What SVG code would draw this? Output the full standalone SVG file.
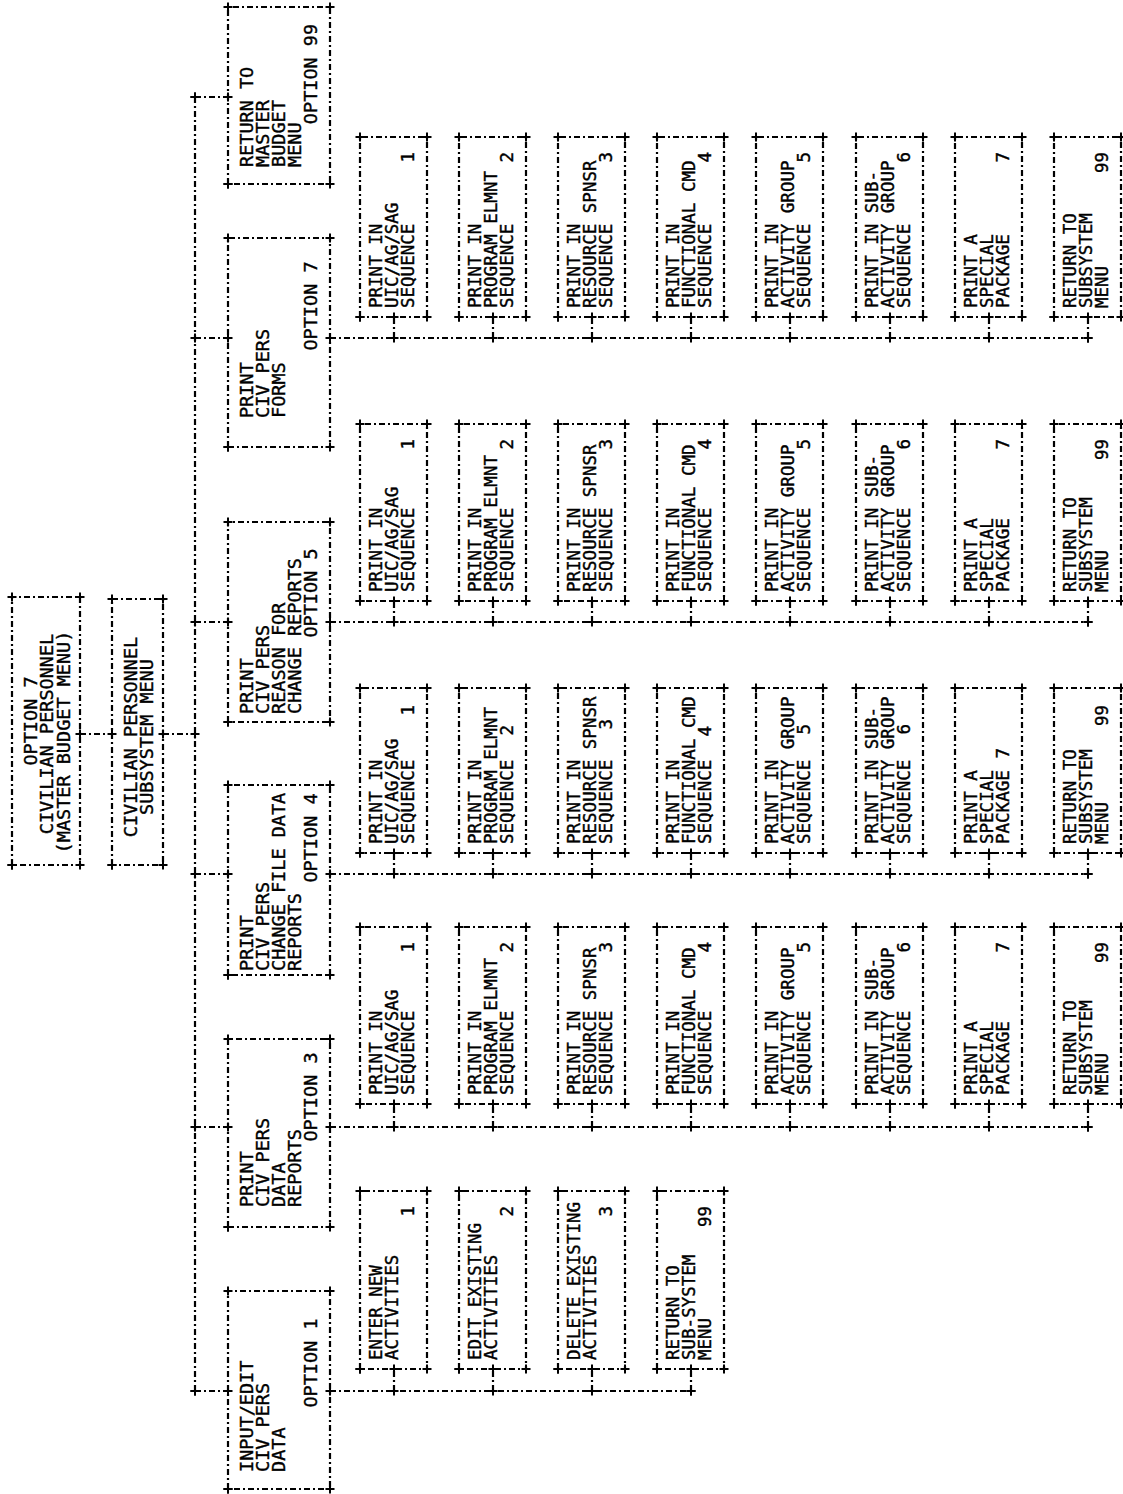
<svg xmlns="http://www.w3.org/2000/svg" width="1123" height="1494" viewBox="0 0 1123 1494">
<style>
.bx,.cn{fill:none;stroke:#000;stroke-width:2.2;stroke-dasharray:6 3 2 3;marker-start:url(#pl);marker-mid:url(#pl);marker-end:url(#pl)}
text{font-family:"DejaVu Sans Mono","Liberation Mono",monospace;font-size:17.5px;fill:#000;stroke:#000;stroke-width:0.4}
.tb{font-size:18.5px}
.e{text-anchor:end}
.m{text-anchor:middle}
</style>
<defs>
<marker id="pl" viewBox="-6 -6 12 12" refX="0" refY="0" markerWidth="12" markerHeight="12" markerUnits="userSpaceOnUse" orient="0">
<path d="M-4.5,0H4.5M0,-4.5V4.5" fill="none" stroke="#000" stroke-width="2"/>
</marker>
</defs>
<rect width="1123" height="1494" fill="#fff"/>

<g id="connectors">
<path class="cn" d="M80,734H112"/>
<path class="cn" d="M163,734H195"/>
<path class="cn" d="M195,97V1391"/>
<path class="cn" d="M195,97H228"/>
<path class="cn" d="M195,338H228"/>
<path class="cn" d="M195,622H228"/>
<path class="cn" d="M195,874H228"/>
<path class="cn" d="M195,1127H228"/>
<path class="cn" d="M195,1391H228"/>
<path class="cn" d="M330,338H1088"/>
<path class="cn" d="M330,622H1088"/>
<path class="cn" d="M330,874H1088"/>
<path class="cn" d="M330,1127H1088"/>
<path class="cn" d="M330,1391H691"/>
<path class="cn" d="M394,338V317"/><path class="cn" d="M493,338V317"/><path class="cn" d="M592,338V317"/><path class="cn" d="M691,338V317"/><path class="cn" d="M790,338V317"/><path class="cn" d="M890,338V317"/><path class="cn" d="M989,338V317"/><path class="cn" d="M1088,338V317"/>
<path class="cn" d="M394,622V601"/><path class="cn" d="M493,622V601"/><path class="cn" d="M592,622V601"/><path class="cn" d="M691,622V601"/><path class="cn" d="M790,622V601"/><path class="cn" d="M890,622V601"/><path class="cn" d="M989,622V601"/><path class="cn" d="M1088,622V601"/>
<path class="cn" d="M394,874V853"/><path class="cn" d="M493,874V853"/><path class="cn" d="M592,874V853"/><path class="cn" d="M691,874V853"/><path class="cn" d="M790,874V853"/><path class="cn" d="M890,874V853"/><path class="cn" d="M989,874V853"/><path class="cn" d="M1088,874V853"/>
<path class="cn" d="M394,1127V1104"/><path class="cn" d="M493,1127V1104"/><path class="cn" d="M592,1127V1104"/><path class="cn" d="M691,1127V1104"/><path class="cn" d="M790,1127V1104"/><path class="cn" d="M890,1127V1104"/><path class="cn" d="M989,1127V1104"/><path class="cn" d="M1088,1127V1104"/>
<path class="cn" d="M394,1391V1369"/><path class="cn" d="M493,1391V1369"/><path class="cn" d="M592,1391V1369"/><path class="cn" d="M691,1391V1369"/>
</g>

<g id="root" transform="translate(12,865) rotate(-90)"><path class="bx" d="M0,0H268V68H0Z"/><text class="tb m" x="144" y="25">OPTION 7</text><text class="tb m" x="131" y="41">CIVILIAN PERSONNEL</text><text class="tb m" x="123" y="58">(MASTER BUDGET MENU)</text></g>
<g id="subsystem" transform="translate(112,865) rotate(-90)"><path class="bx" d="M0,0H266V51H0Z"/><text class="tb m" x="128" y="25">CIVILIAN PERSONNEL</text><text class="tb m" x="128" y="41">SUBSYSTEM MENU</text></g>

<g id="opt99" transform="translate(228,184) rotate(-90)"><path class="bx" d="M0,0H177V102H0Z"/><text class="tb" x="17" y="25">RETURN TO</text><text class="tb" x="17" y="41">MASTER</text><text class="tb" x="17" y="57">BUDGET</text><text class="tb" x="17" y="73">MENU</text><text class="tb m" x="110" y="89">OPTION 99</text></g>
<g id="opt7" transform="translate(228,447) rotate(-90)"><path class="bx" d="M0,0H209V102H0Z"/><text class="tb" x="29" y="25">PRINT</text><text class="tb" x="29" y="41">CIV PERS</text><text class="tb" x="29" y="57">FORMS</text><text class="tb m" x="141" y="89">OPTION 7</text></g>
<g id="opt5" transform="translate(228,722) rotate(-90)"><path class="bx" d="M0,0H200V102H0Z"/><text class="tb" x="8" y="25">PRINT</text><text class="tb" x="8" y="41">CIV PERS</text><text class="tb" x="8" y="57">REASON FOR</text><text class="tb" x="8" y="73">CHANGE REPORTS</text><text class="tb m" x="129" y="89">OPTION 5</text></g>
<g id="opt4" transform="translate(228,975) rotate(-90)"><path class="bx" d="M0,0H190V102H0Z"/><text class="tb" x="4" y="25">PRINT</text><text class="tb" x="4" y="41">CIV PERS</text><text class="tb" x="4" y="57">CHANGE FILE DATA</text><text class="tb" x="4" y="73">REPORTS</text><text class="tb m" x="137" y="89">OPTION 4</text></g>
<g id="opt3" transform="translate(228,1227) rotate(-90)"><path class="bx" d="M0,0H188V102H0Z"/><text class="tb" x="20" y="25">PRINT</text><text class="tb" x="20" y="41">CIV PERS</text><text class="tb" x="20" y="57">DATA</text><text class="tb" x="20" y="73">REPORTS</text><text class="tb m" x="130" y="89">OPTION 3</text></g>
<g id="opt1" transform="translate(228,1489) rotate(-90)"><path class="bx" d="M0,0H198V102H0Z"/><text class="tb" x="17" y="25">INPUT/EDIT</text><text class="tb" x="17" y="41">CIV PERS</text><text class="tb" x="17" y="57">DATA</text><text class="tb m" x="126" y="89">OPTION 1</text></g>

<g id="r7c1" transform="translate(360,317) rotate(-90)"><path class="bx" d="M0,0H180V67H0Z"/><text x="9" y="22">PRINT IN</text><text x="9" y="38">UIC/AG/SAG</text><text x="9" y="54">SEQUENCE</text><text class="e" x="165" y="54">1</text></g>
<g id="r7c2" transform="translate(459,317) rotate(-90)"><path class="bx" d="M0,0H180V67H0Z"/><text x="9" y="22">PRINT IN</text><text x="9" y="38">PROGRAM ELMNT</text><text x="9" y="54">SEQUENCE</text><text class="e" x="165" y="54">2</text></g>
<g id="r7c3" transform="translate(558,317) rotate(-90)"><path class="bx" d="M0,0H180V67H0Z"/><text x="9" y="22">PRINT IN</text><text x="9" y="38">RESOURCE SPNSR</text><text x="9" y="54">SEQUENCE</text><text class="e" x="165" y="54">3</text></g>
<g id="r7c4" transform="translate(657,317) rotate(-90)"><path class="bx" d="M0,0H180V67H0Z"/><text x="9" y="22">PRINT IN</text><text x="9" y="38">FUNCTIONAL CMD</text><text x="9" y="54">SEQUENCE</text><text class="e" x="165" y="54">4</text></g>
<g id="r7c5" transform="translate(756,317) rotate(-90)"><path class="bx" d="M0,0H180V67H0Z"/><text x="9" y="22">PRINT IN</text><text x="9" y="38">ACTIVITY  GROUP</text><text x="9" y="54">SEQUENCE</text><text class="e" x="165" y="54">5</text></g>
<g id="r7c6" transform="translate(856,317) rotate(-90)"><path class="bx" d="M0,0H180V67H0Z"/><text x="9" y="22">PRINT IN SUB-</text><text x="9" y="38">ACTIVITY  GROUP</text><text x="9" y="54">SEQUENCE</text><text class="e" x="165" y="54">6</text></g>
<g id="r7c7" transform="translate(955,317) rotate(-90)"><path class="bx" d="M0,0H180V67H0Z"/><text x="9" y="22">PRINT A</text><text x="9" y="38">SPECIAL</text><text x="9" y="54">PACKAGE</text><text class="e" x="165" y="54">7</text></g>
<g id="r7c8" transform="translate(1054,317) rotate(-90)"><path class="bx" d="M0,0H180V67H0Z"/><text x="9" y="22">RETURN TO</text><text x="9" y="38">SUBSYSTEM</text><text x="9" y="54">MENU</text><text class="e" x="165" y="54">99</text></g>

<g id="r5c1" transform="translate(360,601) rotate(-90)"><path class="bx" d="M0,0H177V67H0Z"/><text x="9" y="22">PRINT IN</text><text x="9" y="38">UIC/AG/SAG</text><text x="9" y="54">SEQUENCE</text><text class="e" x="162" y="54">1</text></g>
<g id="r5c2" transform="translate(459,601) rotate(-90)"><path class="bx" d="M0,0H177V67H0Z"/><text x="9" y="22">PRINT IN</text><text x="9" y="38">PROGRAM ELMNT</text><text x="9" y="54">SEQUENCE</text><text class="e" x="162" y="54">2</text></g>
<g id="r5c3" transform="translate(558,601) rotate(-90)"><path class="bx" d="M0,0H177V67H0Z"/><text x="9" y="22">PRINT IN</text><text x="9" y="38">RESOURCE SPNSR</text><text x="9" y="54">SEQUENCE</text><text class="e" x="162" y="54">3</text></g>
<g id="r5c4" transform="translate(657,601) rotate(-90)"><path class="bx" d="M0,0H177V67H0Z"/><text x="9" y="22">PRINT IN</text><text x="9" y="38">FUNCTIONAL CMD</text><text x="9" y="54">SEQUENCE</text><text class="e" x="162" y="54">4</text></g>
<g id="r5c5" transform="translate(756,601) rotate(-90)"><path class="bx" d="M0,0H177V67H0Z"/><text x="9" y="22">PRINT IN</text><text x="9" y="38">ACTIVITY  GROUP</text><text x="9" y="54">SEQUENCE</text><text class="e" x="162" y="54">5</text></g>
<g id="r5c6" transform="translate(856,601) rotate(-90)"><path class="bx" d="M0,0H177V67H0Z"/><text x="9" y="22">PRINT IN SUB-</text><text x="9" y="38">ACTIVITY  GROUP</text><text x="9" y="54">SEQUENCE</text><text class="e" x="162" y="54">6</text></g>
<g id="r5c7" transform="translate(955,601) rotate(-90)"><path class="bx" d="M0,0H177V67H0Z"/><text x="9" y="22">PRINT A</text><text x="9" y="38">SPECIAL</text><text x="9" y="54">PACKAGE</text><text class="e" x="162" y="54">7</text></g>
<g id="r5c8" transform="translate(1054,601) rotate(-90)"><path class="bx" d="M0,0H177V67H0Z"/><text x="9" y="22">RETURN TO</text><text x="9" y="38">SUBSYSTEM</text><text x="9" y="54">MENU</text><text class="e" x="162" y="54">99</text></g>

<g id="r4c1" transform="translate(360,853) rotate(-90)"><path class="bx" d="M0,0H165V67H0Z"/><text x="9" y="22">PRINT IN</text><text x="9" y="38">UIC/AG/SAG</text><text x="9" y="54">SEQUENCE</text><text class="e" x="148" y="54">1</text></g>
<g id="r4c2" transform="translate(459,853) rotate(-90)"><path class="bx" d="M0,0H165V67H0Z"/><text x="9" y="22">PRINT IN</text><text x="9" y="38">PROGRAM ELMNT</text><text x="9" y="54">SEQUENCE</text><text class="e" x="128" y="54">2</text></g>
<g id="r4c3" transform="translate(558,853) rotate(-90)"><path class="bx" d="M0,0H165V67H0Z"/><text x="9" y="22">PRINT IN</text><text x="9" y="38">RESOURCE  SPNSR</text><text x="9" y="54">SEQUENCE</text><text class="e" x="134" y="54">3</text></g>
<g id="r4c4" transform="translate(657,853) rotate(-90)"><path class="bx" d="M0,0H165V67H0Z"/><text x="9" y="22">PRINT IN</text><text x="9" y="38">FUNCTIONAL CMD</text><text x="9" y="54">SEQUENCE</text><text class="e" x="127" y="54">4</text></g>
<g id="r4c5" transform="translate(756,853) rotate(-90)"><path class="bx" d="M0,0H165V67H0Z"/><text x="9" y="22">PRINT IN</text><text x="9" y="38">ACTIVITY  GROUP</text><text x="9" y="54">SEQUENCE</text><text class="e" x="129" y="54">5</text></g>
<g id="r4c6" transform="translate(856,853) rotate(-90)"><path class="bx" d="M0,0H165V67H0Z"/><text x="9" y="22">PRINT IN SUB-</text><text x="9" y="38">ACTIVITY  GROUP</text><text x="9" y="54">SEQUENCE</text><text class="e" x="129" y="54">6</text></g>
<g id="r4c7" transform="translate(955,853) rotate(-90)"><path class="bx" d="M0,0H165V67H0Z"/><text x="9" y="22">PRINT A</text><text x="9" y="38">SPECIAL</text><text x="9" y="54">PACKAGE</text><text class="e" x="105" y="54">7</text></g>
<g id="r4c8" transform="translate(1054,853) rotate(-90)"><path class="bx" d="M0,0H165V67H0Z"/><text x="9" y="22">RETURN TO</text><text x="9" y="38">SUBSYSTEM</text><text x="9" y="54">MENU</text><text class="e" x="148" y="54">99</text></g>

<g id="r3c1" transform="translate(360,1104) rotate(-90)"><path class="bx" d="M0,0H177V67H0Z"/><text x="9" y="22">PRINT IN</text><text x="9" y="38">UIC/AG/SAG</text><text x="9" y="54">SEQUENCE</text><text class="e" x="162" y="54">1</text></g>
<g id="r3c2" transform="translate(459,1104) rotate(-90)"><path class="bx" d="M0,0H177V67H0Z"/><text x="9" y="22">PRINT IN</text><text x="9" y="38">PROGRAM ELMNT</text><text x="9" y="54">SEQUENCE</text><text class="e" x="162" y="54">2</text></g>
<g id="r3c3" transform="translate(558,1104) rotate(-90)"><path class="bx" d="M0,0H177V67H0Z"/><text x="9" y="22">PRINT IN</text><text x="9" y="38">RESOURCE SPNSR</text><text x="9" y="54">SEQUENCE</text><text class="e" x="162" y="54">3</text></g>
<g id="r3c4" transform="translate(657,1104) rotate(-90)"><path class="bx" d="M0,0H177V67H0Z"/><text x="9" y="22">PRINT IN</text><text x="9" y="38">FUNCTIONAL CMD</text><text x="9" y="54">SEQUENCE</text><text class="e" x="162" y="54">4</text></g>
<g id="r3c5" transform="translate(756,1104) rotate(-90)"><path class="bx" d="M0,0H177V67H0Z"/><text x="9" y="22">PRINT IN</text><text x="9" y="38">ACTIVITY  GROUP</text><text x="9" y="54">SEQUENCE</text><text class="e" x="162" y="54">5</text></g>
<g id="r3c6" transform="translate(856,1104) rotate(-90)"><path class="bx" d="M0,0H177V67H0Z"/><text x="9" y="22">PRINT IN SUB-</text><text x="9" y="38">ACTIVITY  GROUP</text><text x="9" y="54">SEQUENCE</text><text class="e" x="162" y="54">6</text></g>
<g id="r3c7" transform="translate(955,1104) rotate(-90)"><path class="bx" d="M0,0H177V67H0Z"/><text x="9" y="22">PRINT A</text><text x="9" y="38">SPECIAL</text><text x="9" y="54">PACKAGE</text><text class="e" x="162" y="54">7</text></g>
<g id="r3c8" transform="translate(1054,1104) rotate(-90)"><path class="bx" d="M0,0H177V67H0Z"/><text x="9" y="22">RETURN TO</text><text x="9" y="38">SUBSYSTEM</text><text x="9" y="54">MENU</text><text class="e" x="162" y="54">99</text></g>

<g id="r1c1" transform="translate(360,1369) rotate(-90)"><path class="bx" d="M0,0H178V67H0Z"/><text x="9" y="22">ENTER NEW</text><text x="9" y="38">ACTIVITIES</text><text class="e" x="163" y="54">1</text></g>
<g id="r1c2" transform="translate(459,1369) rotate(-90)"><path class="bx" d="M0,0H178V67H0Z"/><text x="9" y="22">EDIT EXISTING</text><text x="9" y="38">ACTIVITIES</text><text class="e" x="163" y="54">2</text></g>
<g id="r1c3" transform="translate(558,1369) rotate(-90)"><path class="bx" d="M0,0H178V67H0Z"/><text x="9" y="22">DELETE EXISTING</text><text x="9" y="38">ACTIVITIES</text><text class="e" x="163" y="54">3</text></g>
<g id="r1c4" transform="translate(657,1369) rotate(-90)"><path class="bx" d="M0,0H178V67H0Z"/><text x="9" y="22">RETURN TO</text><text x="9" y="38">SUB-SYSTEM</text><text x="9" y="54">MENU</text><text class="e" x="163" y="54">99</text></g>
</svg>
